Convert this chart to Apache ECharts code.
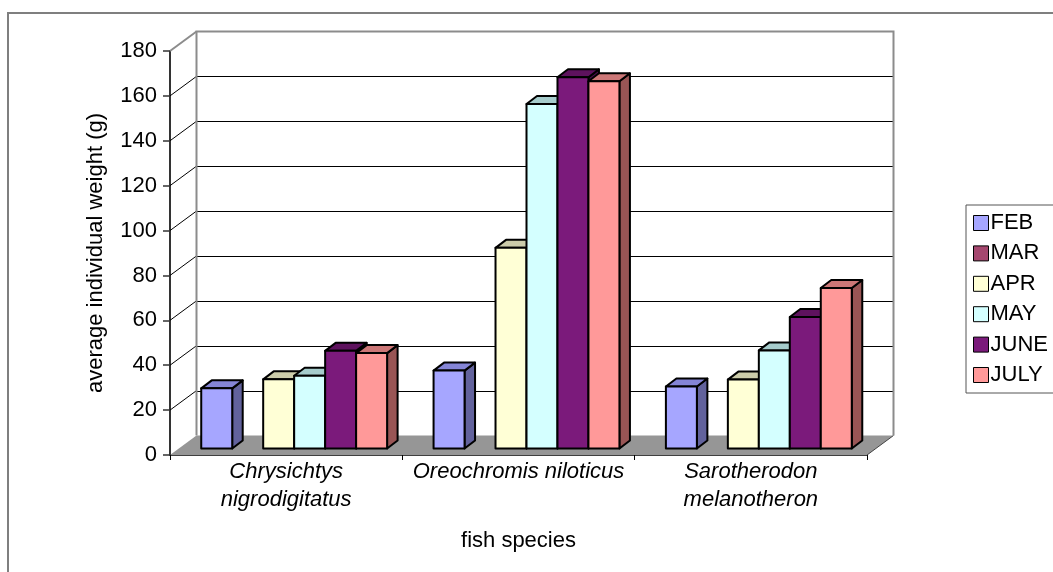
<!DOCTYPE html>
<html>
<head>
<meta charset="utf-8">
<script src="https://cdn.jsdelivr.net/npm/echarts@6/dist/echarts.min.js"></script>
<style>
html,body{margin:0;padding:0;background:#fff;}
#chart{width:1053px;height:572px;}
</style>
</head>
<body>
<div id="chart"></div>
<script>
// Average individual weight (g) per fish species, by month of sampling
const categories = ['Chrysichtys\nnigrodigitatus', 'Oreochromis niloticus', 'Sarotherodon\nmelanotheron'];
const months = ['FEB', 'MAR', 'APR', 'MAY', 'JUNE', 'JULY'];
const feb  = [26.8, 34.7, 27.6];
const mar  = [null, null, null];
const apr  = [30.8, 89.4, 30.7];
const may  = [32.4, 153.5, 43.7];
const june = [43.5, 165.4, 58.6];
const july = [42.5, 163.6, 71.5];
const yTicks = [0, 20, 40, 60, 80, 100, 120, 140, 160, 180];

const seriesValues = [feb, mar, apr, may, june, july];

// face colours: front, top, side
const palette = [
  { front: '#A6A6FF', top: '#8585D6', side: '#62629C' },
  { front: '#A5476F', top: '#843858', side: '#632A42' },
  { front: '#FFFFD6', top: '#CCCCAA', side: '#999980' },
  { front: '#D4FFFF', top: '#A6CCCC', side: '#80999A' },
  { front: '#7B1A7B', top: '#5E125E', side: '#4A0D4A' },
  { front: '#FF9999', top: '#CC7777', side: '#995555' }
];

// oblique projection offsets
const WALL_DX = 26.5, WALL_DY = -19.5;   // back wall relative to the front plane
const BAR_DX = 8, BAR_DY = -6.5;         // bar front faces relative to the front plane
const DEPTH_DX = 10.5, DEPTH_DY = -8;    // bar depth

const FONT = '"Liberation Sans", Arial, sans-serif';
const FS = 22;

function crisp(v) { return Math.round(v) + 0.5; }

function frameItem(params, api) {
  const cs = params.coordSys;
  const L = cs.x, R = cs.x + cs.width;
  const y0 = api.coord([0, 0])[1];
  const yTop = api.coord([0, yTicks[yTicks.length - 1]])[1];
  const kids = [];
  // floor
  kids.push({
    type: 'polygon',
    shape: { points: [[L, y0], [R, y0], [R + WALL_DX, y0 + WALL_DY], [L + WALL_DX, y0 + WALL_DY]] },
    style: { fill: '#969696', stroke: null }
  });
  kids.push({
    type: 'line',
    shape: { x1: R, y1: y0, x2: R + WALL_DX, y2: y0 + WALL_DY },
    style: { stroke: '#444', lineWidth: 1 }
  });
  // gridlines on back wall + left wall diagonals
  yTicks.forEach(function (t, i) {
    if (i === 0) return;
    const y = api.coord([0, t])[1];
    const last = i === yTicks.length - 1;
    kids.push({
      type: 'line',
      shape: { x1: L, y1: y, x2: L + WALL_DX, y2: y + WALL_DY },
      style: { stroke: last ? '#8c8c8c' : '#000', lineWidth: last ? 2 : 1 }
    });
    if (!last) {
      const yy = crisp(y + WALL_DY);
      kids.push({
        type: 'line',
        shape: { x1: L + WALL_DX, y1: yy, x2: R + WALL_DX, y2: yy },
        style: { stroke: '#000', lineWidth: 1 }
      });
    }
  });
  // back wall edges
  kids.push({
    type: 'polyline',
    shape: { points: [[L + WALL_DX, y0 + WALL_DY], [L + WALL_DX, yTop + WALL_DY], [R + WALL_DX, yTop + WALL_DY], [R + WALL_DX, y0 + WALL_DY]] },
    style: { stroke: '#8c8c8c', lineWidth: 2, fill: null }
  });
  return { type: 'group', children: kids };
}

function barRenderer(slot) {
  const c = palette[slot];
  return function (params, api) {
    const v = api.value(1);
    if (v == null || isNaN(v)) return null;
    const cat = api.value(0);
    const base = api.coord([cat, 0]);
    const top = api.coord([cat, v]);
    const band = api.size([1, 0])[0];
    const w = band / 7.5;
    const x0 = base[0] + (slot - 3) * w + BAR_DX;
    const x1 = x0 + w;
    const yb = base[1] + BAR_DY;
    const yt = top[1] + BAR_DY;
    const line = { stroke: '#000', lineWidth: 2, lineJoin: 'round' };
    return {
      type: 'group',
      children: [
        {
          type: 'polygon',
          shape: { points: [[x1, yt], [x1 + DEPTH_DX, yt + DEPTH_DY], [x1 + DEPTH_DX, yb + DEPTH_DY], [x1, yb]] },
          style: Object.assign({ fill: c.side }, line)
        },
        {
          type: 'polygon',
          shape: { points: [[x0, yt], [x1, yt], [x1 + DEPTH_DX, yt + DEPTH_DY], [x0 + DEPTH_DX, yt + DEPTH_DY]] },
          style: Object.assign({ fill: c.top }, line)
        },
        {
          type: 'rect',
          shape: { x: x0, y: yt, width: w, height: yb - yt },
          style: Object.assign({ fill: c.front }, line)
        }
      ]
    };
  };
}

const series = [{
  type: 'custom',
  name: '__frame',
  renderItem: frameItem,
  data: [[0, 0]],
  encode: { x: 0, y: 1 },
  silent: true,
  z: 1
}];
months.forEach(function (m, i) {
  series.push({
    type: 'custom',
    name: m,
    renderItem: barRenderer(i),
    itemStyle: { color: palette[i].front },
    encode: { x: 0, y: 1 },
    data: categories.map(function (c, k) { return [k, seriesValues[i][k]]; }),
    z: 2 + i
  });
});

const chart = echarts.init(document.getElementById('chart'), null, { renderer: 'canvas' });
chart.setOption({
  animation: false,
  backgroundColor: '#fff',
  graphic: [{
    type: 'rect',
    shape: { x: 8, y: 13, width: 1200, height: 700 },
    style: { fill: null, stroke: '#7f7f7f', lineWidth: 2 },
    z: 0
  }],
  grid: { left: 170, right: 186, top: 51, bottom: 117 },
  legend: {
    data: months,
    orient: 'vertical',
    left: 966,
    top: 205,
    icon: 'rect',
    itemWidth: 15,
    itemHeight: 15,
    itemGap: 8.4,
    padding: [7, 80, 7, 7],
    borderColor: '#555',
    borderWidth: 1,
    textStyle: { fontFamily: FONT, fontSize: FS, color: '#000', lineHeight: 22, padding: [0, 0, 0, -3] },
    itemStyle: { borderColor: '#000', borderWidth: 1 },
    selectedMode: false
  },
  xAxis: {
    type: 'category',
    data: categories,
    name: 'fish species',
    nameLocation: 'middle',
    nameGap: 75,
    nameTextStyle: { fontFamily: FONT, fontSize: FS, color: '#000' },
    axisLine: { show: true, lineStyle: { color: '#000', width: 1.5 } },
    axisTick: { show: true, length: 5, lineStyle: { color: '#000', width: 1 } },
    axisLabel: { interval: 0, hideOverlap: false, fontFamily: FONT, fontSize: FS, fontStyle: 'italic', color: '#000', lineHeight: 28, margin: 3 },
    splitLine: { show: false }
  },
  yAxis: {
    type: 'value',
    min: 0,
    max: 180,
    interval: 20,
    name: 'average individual weight (g)',
    nameLocation: 'middle',
    nameGap: 63,
    nameTextStyle: { fontFamily: FONT, fontSize: FS, color: '#000' },
    axisLine: { show: true, lineStyle: { color: '#333', width: 2 } },
    axisTick: { show: true, length: 7, lineStyle: { color: '#333', width: 1.5 } },
    axisLabel: { fontFamily: FONT, fontSize: FS, color: '#000', margin: 13 },
    splitLine: { show: false }
  },
  series: series
});
</script>
</body>
</html>
